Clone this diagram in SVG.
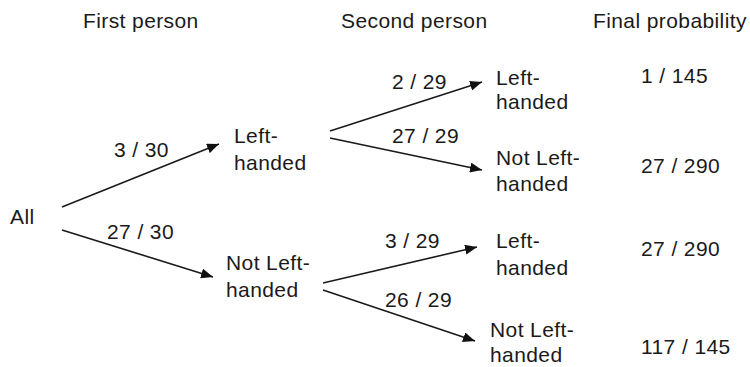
<svg xmlns="http://www.w3.org/2000/svg" width="750" height="367" viewBox="0 0 750 367">
<style>
text{font-family:"Liberation Sans",Arial,sans-serif;font-size:21px;fill:#1a1a1a;letter-spacing:0.4px}
.c{stroke:#1a1a1a;stroke-width:1.6;fill:none;marker-end:url(#ah)}
</style>
<defs>
<marker id="ah" markerUnits="userSpaceOnUse" markerWidth="12" markerHeight="10" refX="12" refY="5" orient="auto">
<path d="M0,0 L12,5 L0,10 z" fill="#111"/>
</marker>
</defs>
<rect width="750" height="367" fill="#fff"/>
<g id="headers">
<text x="83" y="28">First person</text>
<text x="341" y="28">Second person</text>
<text x="593" y="28">Final probability</text>
</g>
<g id="connectors">
<line class="c" x1="62" y1="207" x2="219" y2="144"/>
<line class="c" x1="62" y1="230" x2="213" y2="277"/>
<line class="c" x1="330" y1="131" x2="482" y2="82"/>
<line class="c" x1="330" y1="138" x2="482" y2="170"/>
<line class="c" x1="323" y1="283" x2="477" y2="247"/>
<line class="c" x1="323" y1="290" x2="475" y2="341"/>
</g>
<g id="edge-labels">
<text x="114" y="157">3 / 30</text>
<text x="107" y="239">27 / 30</text>
<text x="392" y="89">2 / 29</text>
<text x="392" y="143">27 / 29</text>
<text x="385" y="248">3 / 29</text>
<text x="385" y="307">26 / 29</text>
</g>
<g id="all"><text x="10" y="224">All</text></g>
<g id="left1"><text x="234" y="143">Left-</text><text x="234" y="170">handed</text></g>
<g id="notleft1"><text x="226" y="270">Not Left-</text><text x="226" y="297">handed</text></g>
<g id="left-left"><text x="496" y="85">Left-</text><text x="496" y="109">handed</text></g>
<g id="left-notleft"><text x="496" y="165">Not Left-</text><text x="496" y="191">handed</text></g>
<g id="notleft-left"><text x="496" y="248">Left-</text><text x="496" y="275">handed</text></g>
<g id="notleft-notleft"><text x="490" y="337">Not Left-</text><text x="490" y="362">handed</text></g>
<g id="final">
<text x="641" y="83">1 / 145</text>
<text x="641" y="173">27 / 290</text>
<text x="641" y="256">27 / 290</text>
<text x="641" y="354">117 / 145</text>
</g>
</svg>
